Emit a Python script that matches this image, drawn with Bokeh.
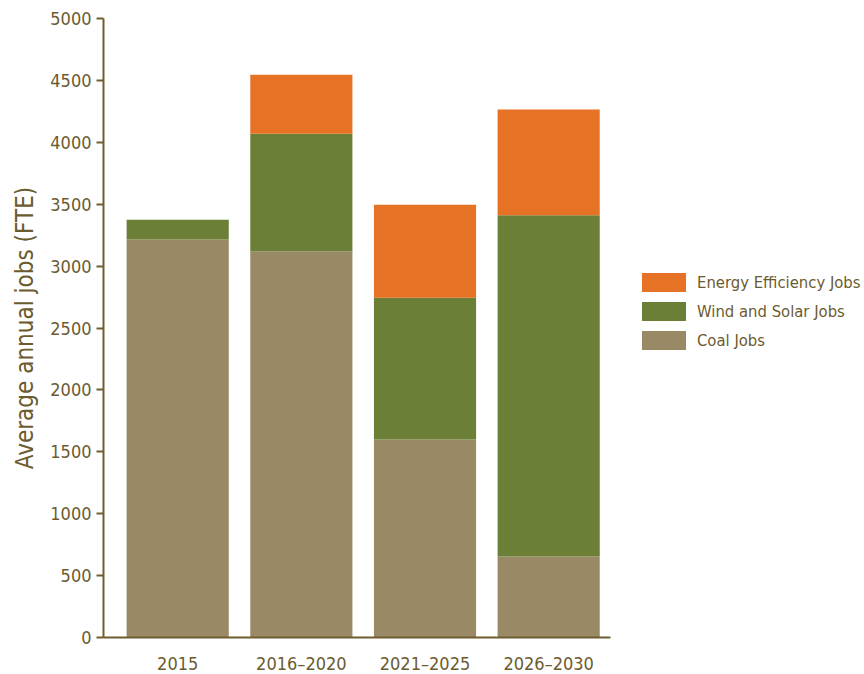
from bokeh.plotting import figure
from bokeh.models import Legend, LegendItem, FixedTicker, Range1d, ColumnDataSource
from bokeh.embed import file_html
from bokeh.resources import INLINE

# Average annual jobs (FTE) by period and source
categories = ["2015", "2016–2020", "2021–2025", "2026–2030"]
coal_jobs = [3215, 3120, 1600, 655]
wind_solar_jobs = [160, 950, 1145, 2755]
efficiency_jobs = [0, 475, 750, 855]
y_ticks = [0, 500, 1000, 1500, 2000, 2500, 3000, 3500, 4000, 4500, 5000]

FONT = "DejaVu Sans Condensed, Open Sans"
TEXT = "#6b5b2f"
AXIS = "#6e5e2e"
colors = ["#9a8965", "#6b7f37", "#e57225"]
series = ["coal", "wind", "eff"]
labels = ["Coal Jobs", "Wind and Solar Jobs", "Energy Efficiency Jobs"]

xs = list(range(len(categories)))
source = ColumnDataSource(dict(x=xs, coal=coal_jobs, wind=wind_solar_jobs, eff=efficiency_jobs))

p = figure(frame_width=507, frame_height=619, output_backend="svg", toolbar_location=None,
           x_range=Range1d(-0.6, 3.5), y_range=Range1d(0, 5000),
           min_border_left=103, min_border_right=0, min_border_top=18, min_border_bottom=0)

renderers = p.vbar_stack(series, x="x", width=0.826, color=colors, line_color=None, source=source)

p.xgrid.visible = False
p.ygrid.visible = False
p.outline_line_color = None

# y axis
ya = p.yaxis[0]
ya.ticker = FixedTicker(ticks=y_ticks)
ya.axis_label = "Average annual jobs (FTE)"
ya.axis_label_text_font = FONT
ya.axis_label_text_font_size = "24px"
ya.axis_label_text_font_style = "normal"
ya.axis_label_text_color = TEXT
ya.axis_label_standoff = 8
ya.major_label_text_font = FONT
ya.major_label_text_font_size = "18px"
ya.major_label_text_color = TEXT
ya.major_label_standoff = 5
ya.axis_line_color = AXIS
ya.axis_line_width = 2
ya.major_tick_line_color = AXIS
ya.major_tick_line_width = 2
ya.major_tick_out = 7
ya.major_tick_in = 0
ya.minor_tick_line_color = None

# x axis
xa = p.xaxis[0]
xa.ticker = FixedTicker(ticks=xs)
xa.major_label_overrides = {i: c for i, c in zip(xs, categories)}
xa.major_label_text_font = FONT
xa.major_label_text_font_size = "18px"
xa.major_label_text_color = TEXT
xa.major_label_standoff = 9
xa.axis_line_color = AXIS
xa.axis_line_width = 2
xa.major_tick_line_color = None
xa.minor_tick_line_color = None

# legend on the right, top entry first (area swatches are drawn at 80% of the glyph box)
items = [LegendItem(label=labels[i], renderers=[renderers[i]]) for i in (2, 1, 0)]
legend = Legend(items=items, location=(26, 285), orientation="vertical",
                glyph_width=55, glyph_height=24, label_height=24, spacing=5,
                label_standoff=6, padding=0, margin=31,
                border_line_color=None, background_fill_alpha=0,
                label_text_font=FONT, label_text_font_size="16.5px", label_text_color=TEXT)
p.add_layout(legend, "right")

open("out.html", "w").write(file_html(p, INLINE))
